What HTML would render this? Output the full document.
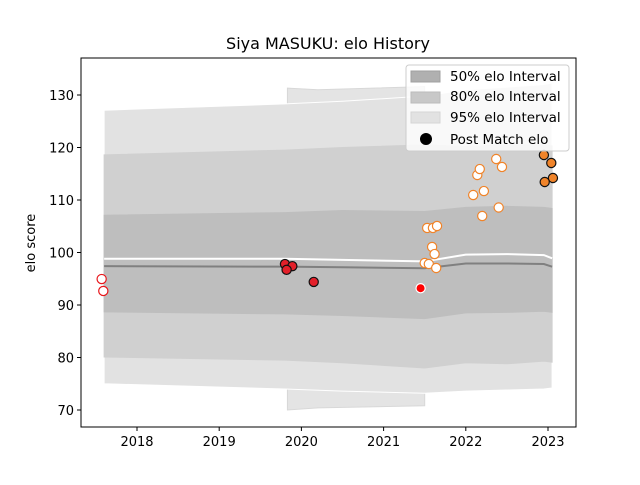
<!DOCTYPE html>
<html><head><meta charset="utf-8"><style>
body{margin:0;background:#fff;font-family:"Liberation Sans","DejaVu Sans",sans-serif;}
svg text{font-family:"DejaVu Sans","Liberation Sans",sans-serif;}
</style></head><body>
<svg id="chart" width="640" height="480" viewBox="0 0 640 480" xmlns="http://www.w3.org/2000/svg">
<rect width="640" height="480" fill="#fff"/>
<text x="328" y="49" font-size="16" text-anchor="middle" fill="#000">Siya MASUKU: elo History</text>
<text x="35" y="243" font-size="13" text-anchor="middle" transform="rotate(-90 35 243)">elo score</text>
<g id="plot"></g>
<rect x="81" y="58" width="495" height="369" fill="none" stroke="#000" stroke-width="1"/>
<g id="axes"></g>
<g>
<rect x="406" y="65" width="163" height="86" rx="3" fill="#fff" fill-opacity="0.8" stroke="#ccc"/>
<rect x="411" y="71" width="29" height="11" fill="#b0b0b0" stroke="#a0a0a0"/>
<text x="450" y="81" font-size="13.5">50% elo Interval</text>
<rect x="411" y="92" width="29" height="11" fill="#c8c8c8" stroke="#bbb"/>
<text x="450" y="101" font-size="13.5">80% elo Interval</text>
<rect x="411" y="112" width="29" height="11" fill="#e2e2e2" stroke="#d5d5d5"/>
<text x="450" y="122" font-size="13.5">95% elo Interval</text>
<circle cx="426" cy="139" r="6" fill="#000"/>
<text x="450" y="144" font-size="13.5">Post Match elo</text>
</g>
</svg>
<script>
// band data
const bandX = [2017.6, 2019.8, 2020.5, 2021.5, 2022.0, 2022.5, 2022.95, 2023.05];
const upper95 = [127.1, 128.3, 128.8, 129.8, 131.0, 131.5, 132.0, 132.3];
const lower95 = [75.0, 74.0, 73.6, 73.2, 73.6, 73.8, 74.0, 74.2];
const upper80 = [118.6, 119.5, 120.0, 120.5, 120.2, 120.5, 120.5, 120.3];
const lower80 = [80.1, 79.5, 79.0, 78.0, 79.0, 78.8, 79.3, 79.1];
const upper50 = [107.1, 107.6, 108.0, 107.8, 108.6, 108.8, 108.6, 108.4];
const lower50 = [88.7, 88.3, 88.0, 87.4, 88.5, 88.6, 88.8, 88.6];
const meanUpper = [98.8, 98.8, 98.6, 98.3, 99.6, 99.7, 99.5, 98.9];
const meanLine = [97.4, 97.3, 97.2, 97.0, 97.9, 97.9, 97.8, 97.3];
// secondary (overlapping) interval band
const band2X = [2019.83, 2020.2, 2021.5];
const upper95b = [131.3, 131.0, 131.6];
const lower95b = [70.0, 70.4, 70.8];
// post match points
const openRedX = [2017.57, 2017.59];
const openRedY = [94.95, 92.67];
const redX = [2019.80, 2019.89, 2019.82, 2020.15];
const redY = [97.8, 97.4, 96.7, 94.4];
const redWX = [2021.45];
const redWY = [93.2];
const openOrX = [2021.53,2021.60,2021.65,2021.59,2021.62,2021.50,2021.55,2021.64,2022.09,2022.22,2022.14,2022.17,2022.37,2022.44,2022.20,2022.40];
const openOrY = [104.67,104.67,105.05,101.05,99.71,98.0,97.81,97.05,110.95,111.71,114.76,115.9,117.81,116.29,106.95,108.57];
const orX = [2022.95, 2023.04, 2023.06, 2022.96];
const orY = [118.57, 117.05, 114.19, 113.43];
const xTicks = [2018, 2019, 2020, 2021, 2022, 2023];
const yTicks = [70, 80, 90, 100, 110, 120, 130];

const X = v => 137 + (v - 2018) * 82.2;
const Y = v => 410 - (v - 70) * 5.25;
const NS = "http://www.w3.org/2000/svg";
const plot = document.getElementById('plot');
const axes = document.getElementById('axes');
function mk(tag, attrs, parent){const e=document.createElementNS(NS,tag);for(const k in attrs)e.setAttribute(k,attrs[k]);parent.appendChild(e);return e;}
function band(xs, up, lo, fill, name, stroke){
  let pts = xs.map((x,i)=>X(x)+','+Y(up[i]));
  pts = pts.concat(xs.map((x,i)=>X(x)+','+Y(lo[i])).reverse());
  const p = mk('polygon',{points:pts.join(' '),fill:fill,stroke:stroke||fill,'stroke-width':1},plot);
  
  
}
band(band2X, upper95b, lower95b, '#e4e4e4', 'band-95-secondary', '#d8d8d8');
band(bandX, upper95, lower95, '#e2e2e2', 'band-95', '#ffffff');
band(bandX, upper80, lower80, '#d0d0d0', 'band-80');
band(bandX, upper50, lower50, '#bebebe', 'band-50');
function line(arr, color, w, name){
  const p = mk('polyline',{points:bandX.map((x,i)=>X(x)+','+Y(arr[i])).join(' '),fill:'none',stroke:color,'stroke-width':w},plot);
  
  
}
line(meanUpper, '#ffffff', 2, 'mean-upper-line');
line(meanLine, '#808080', 2, 'mean-line');
function pts(xs, ys, fill, stroke, name){
  xs.forEach((x,i)=>{
    const c = mk('circle',{cx:X(x),cy:Y(ys[i]),r:4.6,fill:fill,stroke:stroke,'stroke-width':1.2},plot);
    
    
  });
}
pts(openRedX, openRedY, '#ffffff', '#e8161b', 'point-open-red');
pts(redX, redY, '#e3202a', '#111111', 'point-red');
pts(redWX, redWY, '#ff0000', '#ffffff', 'point-red-white-edge');
pts(openOrX, openOrY, '#ffffff', '#f0842a', 'point-open-orange');
pts(orX, orY, '#f0842a', '#111111', 'point-orange');
xTicks.forEach(t=>{
  mk('line',{x1:X(t),x2:X(t),y1:427,y2:431,stroke:'#000'},axes);
  const tx = mk('text',{x:X(t),y:446,'font-size':13,'text-anchor':'middle'},axes);
  tx.textContent = t;
  
  
});
yTicks.forEach(t=>{
  mk('line',{x1:77,x2:81,y1:Y(t),y2:Y(t),stroke:'#000'},axes);
  const tx = mk('text',{x:74,y:Y(t)+5,'font-size':13,'text-anchor':'end'},axes);
  tx.textContent = t;
  
  
});
</script>
</body></html>
